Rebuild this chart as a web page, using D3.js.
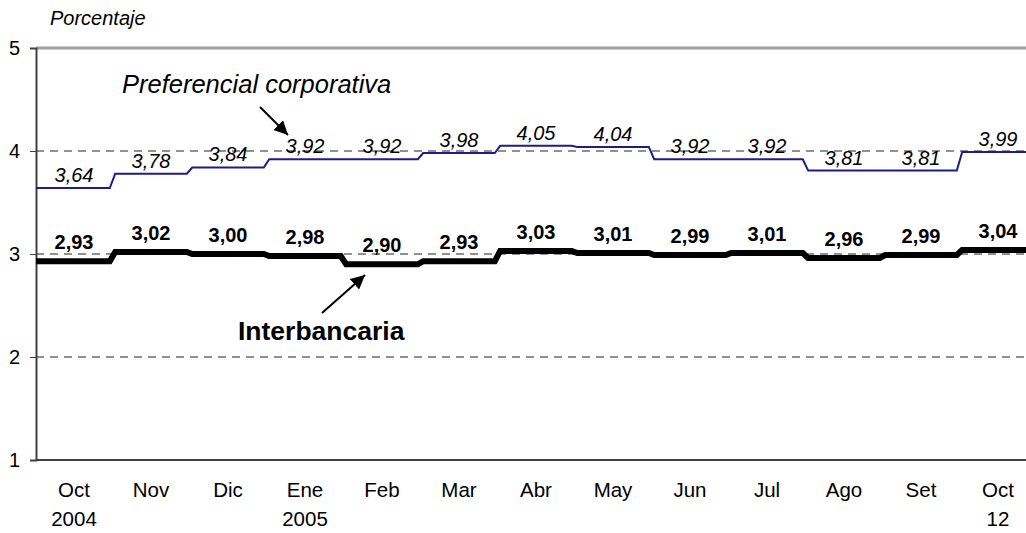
<!DOCTYPE html>
<html><head><meta charset="utf-8">
<script src="https://cdn.jsdelivr.net/npm/d3@7"></script>
<style>body{margin:0;background:#fff}svg{display:block}text{font-family:"Liberation Sans",Arial,sans-serif}</style>
</head><body>
<script>
const months = ["Oct","Nov","Dic","Ene","Feb","Mar","Abr","May","Jun","Jul","Ago","Set","Oct"];
const years = ["2004","","","2005","","","","","","","","","12"];
const preferencial = [3.64,3.78,3.84,3.92,3.92,3.98,4.05,4.04,3.92,3.92,3.81,3.81,3.99];
const interbancaria = [2.93,3.02,3.00,2.98,2.90,2.93,3.03,3.01,2.99,3.01,2.96,2.99,3.04];
const yTicks = [1,2,3,4,5];
const gridTicks = [2,3,4];
const fmt = v => d3.format(".2f")(v).replace(".", ",");

const W = 1026, H = 533;
const svg = d3.select("body").append("svg").attr("width", W).attr("height", H);
const x = d3.scaleLinear().domain([0, 12]).range([74, 74 + 77*12]);
const y = d3.scaleLinear().domain([1, 5]).range([460, 48]);
const x0 = 36;

// top border
svg.append("line").attr("x1", x0).attr("x2", W).attr("y1", y(5)).attr("y2", y(5))
  .attr("stroke", "#a0a0a0").attr("stroke-width", 3);
// grid
svg.selectAll("line.grid").data(gridTicks).join("line").attr("class","grid")
  .attr("x1", x0).attr("x2", W).attr("y1", d => y(d)).attr("y2", d => y(d))
  .attr("stroke", "#222").attr("stroke-width", 1).attr("stroke-dasharray", "8,6");

// y axis
const yAxis = d3.axisLeft(y).tickValues(yTicks).tickSize(6).tickPadding(10).tickFormat(d3.format("d"));
const gy = svg.append("g").attr("transform", `translate(${x0},0)`).call(yAxis);
gy.select(".domain").attr("stroke", "#404040").attr("stroke-width", 2);
gy.selectAll(".tick line").attr("stroke", "#404040");
gy.selectAll(".tick text").attr("font-size", 20).attr("fill", "#000").attr("font-family", "Liberation Sans");
// x baseline
svg.append("line").attr("x1", x0).attr("x2", W).attr("y1", y(1)).attr("y2", y(1))
  .attr("stroke", "#404040").attr("stroke-width", 2);

// x labels
svg.selectAll("text.m").data(months).join("text").attr("class","m")
  .attr("x", (d,i) => x(i)).attr("y", 497).attr("text-anchor","middle").attr("font-size", 20.5).text(d => d);
svg.selectAll("text.yr").data(years).join("text").attr("class","yr")
  .attr("x", (d,i) => x(i)).attr("y", 526).attr("text-anchor","middle").attr("font-size", 20.5).text(d => d);

// step path with small ramps
function stepPts(vals){
  const e = 0.035, pts = [];
  vals.forEach((v,i) => {
    const a = i === 0 ? x.invert(x0) : i - 0.5 + e;
    const b = i === vals.length - 1 ? x.invert(W + 5) : i + 0.5 - e;
    pts.push([a, v], [b, v]);
  });
  return pts;
}
const line = d3.line().x(d => x(d[0])).y(d => y(d[1]));
svg.append("path").attr("d", line(stepPts(preferencial))).attr("fill","none")
  .attr("stroke", "#1c1c8a").attr("stroke-width", 2);
svg.append("path").attr("d", line(stepPts(interbancaria))).attr("fill","none")
  .attr("stroke", "#000").attr("stroke-width", 6);

// data labels
svg.selectAll("text.pl").data(preferencial).join("text").attr("class","pl")
  .attr("x", (d,i) => x(i)).attr("y", d => y(d) - 6).attr("text-anchor","middle")
  .attr("font-size", 20).attr("font-style","italic").text(fmt);
svg.selectAll("text.il").data(interbancaria).join("text").attr("class","il")
  .attr("x", (d,i) => x(i)).attr("y", d => y(d) - 12).attr("text-anchor","middle")
  .attr("font-size", 20).attr("font-weight","bold").text(fmt);

// axis title
svg.append("text").attr("x", 50).attr("y", 25).attr("font-size", 20).attr("font-style","italic").text("Porcentaje");

// annotations
const defs = svg.append("defs");
defs.append("marker").attr("id","ah").attr("viewBox","0 0 10 10").attr("refX",10).attr("refY",5)
  .attr("markerWidth",14).attr("markerHeight",14).attr("markerUnits","userSpaceOnUse").attr("orient","auto")
  .append("path").attr("d","M0,0 L10,5 L0,10 Z").attr("fill","#000");
svg.append("text").attr("x", 122).attr("y", 93).attr("font-size", 25.5).attr("font-style","italic").text("Preferencial corporativa");
svg.append("line").attr("x1", 260).attr("y1", 107).attr("x2", 288).attr("y2", 135)
  .attr("stroke","#000").attr("stroke-width",2).attr("marker-end","url(#ah)");
svg.append("text").attr("x", 238).attr("y", 340).attr("font-size", 26.5).attr("font-weight","bold").text("Interbancaria");
svg.append("line").attr("x1", 322).attr("y1", 313).attr("x2", 365).attr("y2", 275)
  .attr("stroke","#000").attr("stroke-width",2).attr("marker-end","url(#ah)");
</script>
</body></html>
